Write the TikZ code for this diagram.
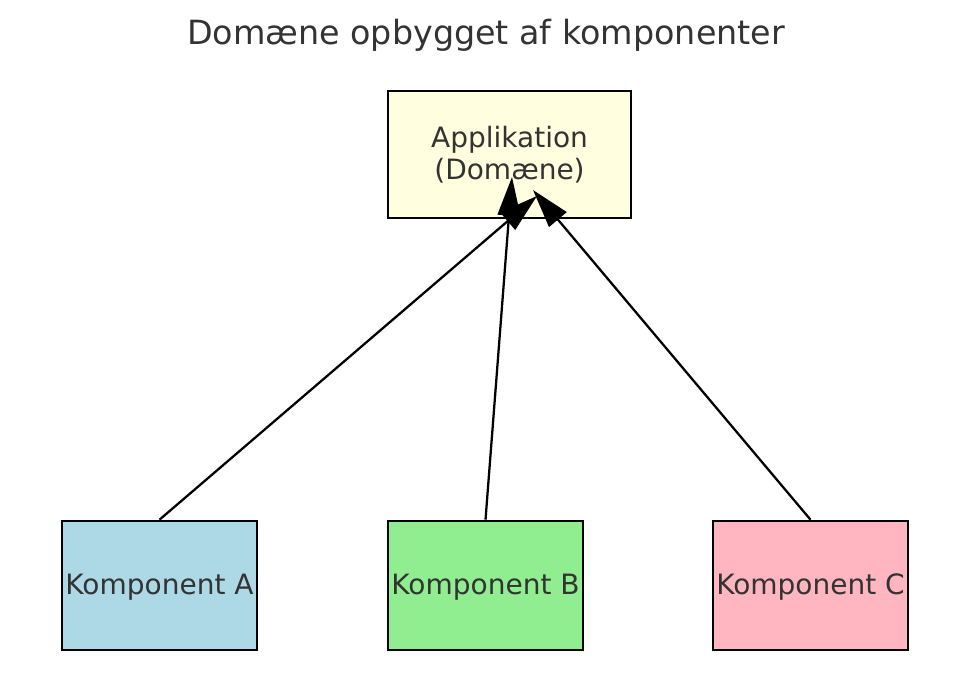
\documentclass[tikz,border=0pt]{standalone}
\usepackage{fontspec}
\setmainfont{DejaVu Sans}
\usepackage{xcolor}
\usepackage{tikz}
\usetikzlibrary{arrows.meta,positioning}
\definecolor{dmtext}{HTML}{333333}
\definecolor{dmyellow}{HTML}{FFFFE0}
\definecolor{dmblue}{HTML}{ADD8E6}
\definecolor{dmgreen}{HTML}{90EE90}
\definecolor{dmpink}{HTML}{FFB6C1}
\tikzset{
  deparrow/.style={-{Triangle[length=29pt,width=17pt]}, line width=1.7pt, draw=black},
  appbox/.style={draw=black, line width=1.7pt, fill=dmyellow, align=center,
    minimum width=182pt, minimum height=95pt, text=dmtext,
    font=\fontsize{21}{24}\selectfont},
  compbox/.style={draw=black, line width=1.7pt, align=center, inner sep=1pt,
    minimum width=146pt, minimum height=97pt, text=dmtext,
    text depth=2pt, font=\fontsize{21}{24}\selectfont},
  titletext/.style={font=\fontsize{25}{30}\selectfont, text=dmtext}
}

\begin{document}
\begin{tikzpicture}[x=0.75pt, y=-0.75pt]
        \useasboundingbox (0,0) rectangle (969,698);
        \node[titletext] (title) at (486,35) {Domæne opbygget af komponenter};
        \node[appbox] (app) at (509.5,154.5) {Applikation\\(Domæne)};
        \node[compbox, fill=dmblue] (compA) at (159.5,585.5) {Komponent A};
        \node[compbox, fill=dmgreen] (compB) at (485.5,585.5) {Komponent B};
        \node[compbox, fill=dmpink] (compC) at (810.5,585.5) {Komponent C};

        \coordinate (tipA) at (537,196);
        \coordinate (tipB) at (512,177);
        \coordinate (tipC) at (533,190);

        \draw[deparrow] (compA.north) -- (tipA);
        \draw[deparrow] (compB.north) -- (tipB);
        \draw[deparrow] (compC.north) -- (tipC);
    \end{tikzpicture}
\end{document}
